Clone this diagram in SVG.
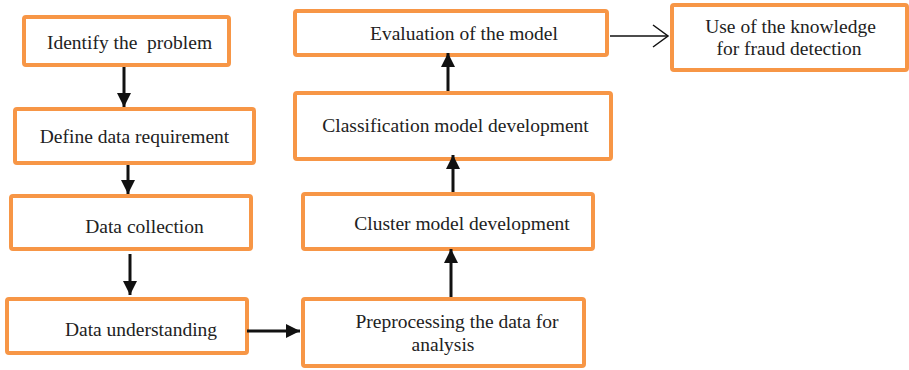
<svg xmlns="http://www.w3.org/2000/svg" width="909" height="370" viewBox="0 0 909 370">
  <style>
    .box { fill: #ffffff; stroke: #F79646; stroke-width: 4; }
    .lbl { font-family: "Liberation Serif", "Times New Roman", serif; font-size: 19.5px; fill: #222222; text-anchor: middle; white-space: pre; }
    .flow { stroke: #111111; stroke-width: 3; fill: none; marker-end: url(#solidHead); }
    .thin { stroke: #111111; stroke-width: 1.5; fill: none; marker-end: url(#openHead); }
  </style>
  <defs>
    <marker id="solidHead" markerUnits="userSpaceOnUse" markerWidth="14" markerHeight="14" refX="14" refY="7" orient="auto">
      <path d="M0,0 L14,7 L0,14 Z" fill="#111111"/>
    </marker>
    <marker id="openHead" markerUnits="userSpaceOnUse" markerWidth="18" markerHeight="26" refX="16" refY="13" orient="auto">
      <path d="M1,2 L16,13 L1,24" fill="none" stroke="#111111" stroke-width="1.5"/>
    </marker>
  </defs>
  <rect width="909" height="370" fill="#ffffff"/>

  <g id="identify-problem">
    <rect class="box" x="24" y="17" width="205" height="48" rx="2"/>
    <text class="lbl" x="129.5" y="49" xml:space="preserve">Identify the  problem</text>
  </g>
  <g id="define-requirement">
    <rect class="box" x="15" y="109" width="239" height="54" rx="2"/>
    <text class="lbl" x="134.5" y="143">Define data requirement</text>
  </g>
  <g id="data-collection">
    <rect class="box" x="11" y="196" width="240" height="53" rx="2"/>
    <text class="lbl" x="144.5" y="233">Data collection</text>
  </g>
  <g id="data-understanding">
    <rect class="box" x="7" y="299" width="240" height="54" rx="2"/>
    <text class="lbl" x="141" y="336">Data understanding</text>
  </g>
  <g id="preprocessing">
    <rect class="box" x="303" y="299" width="281" height="67" rx="2"/>
    <text class="lbl" x="457" y="328">Preprocessing the data for</text>
    <text class="lbl" x="443" y="350.5">analysis</text>
  </g>
  <g id="cluster-model">
    <rect class="box" x="303" y="194" width="290" height="55" rx="2"/>
    <text class="lbl" x="462" y="230">Cluster model development</text>
  </g>
  <g id="classification-model">
    <rect class="box" x="295" y="93" width="316" height="66" rx="2"/>
    <text class="lbl" x="455.5" y="131.5">Classification model development</text>
  </g>
  <g id="evaluation">
    <rect class="box" x="295" y="11" width="312" height="44" rx="2"/>
    <text class="lbl" x="464" y="40">Evaluation of the model</text>
  </g>
  <g id="fraud-detection">
    <rect class="box" x="672" y="5" width="235" height="65" rx="2"/>
    <text class="lbl" x="790.5" y="33">Use of the knowledge</text>
    <text class="lbl" x="789" y="55">for fraud detection</text>
  </g>

  <g id="connectors">
    <line class="flow" x1="124" y1="67" x2="124" y2="107"/>
    <line class="flow" x1="128" y1="165" x2="128" y2="194"/>
    <line class="flow" x1="130" y1="254" x2="130" y2="295"/>
    <line class="flow" x1="247" y1="331" x2="300" y2="331"/>
    <line class="flow" x1="451" y1="297" x2="451" y2="249"/>
    <line class="flow" x1="453" y1="192" x2="453" y2="155"/>
    <line class="flow" x1="448" y1="91" x2="448" y2="53"/>
    <line class="thin" x1="610" y1="36" x2="668" y2="36"/>
  </g>
</svg>
